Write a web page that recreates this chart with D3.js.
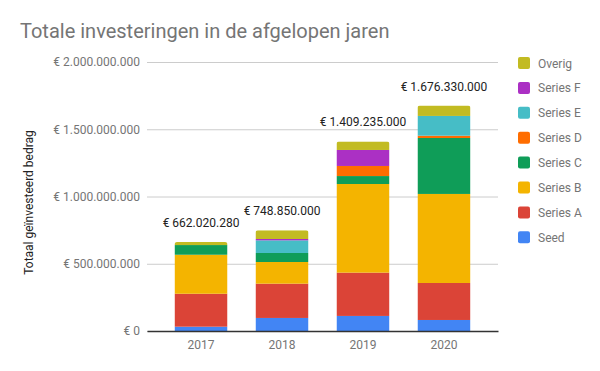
<!DOCTYPE html>
<html>
<head>
<meta charset="utf-8">
<script src="https://cdn.jsdelivr.net/npm/d3@7"></script>
<style>
  body { margin: 0; background: #fff; }
  text { font-family: Roboto, "Noto Sans", sans-serif; }
</style>
</head>
<body>
<div id="vis"></div>
<script>
// Data (euro)
var years = ["2017", "2018", "2019", "2020"];
var seriesNames = ["Seed", "Series A", "Series B", "Series C", "Series D", "Series E", "Series F", "Overig"];
var seed    = [32000000, 97000000, 112000000, 82000000];
var seriesA = [245000000, 255000000, 322000000, 275000000];
var seriesB = [290000000, 161000000, 659000000, 662000000];
var seriesC = [72000000, 67000000, 59000000, 416000000];
var seriesD = [0, 0, 75000000, 17000000];
var seriesE = [0, 94000000, 0, 147000000];
var seriesF = [0, 10000000, 119000000, 0];
var overig  = [23020280, 64850000, 63235000, 77330000];
var totals  = [662020280, 748850000, 1409235000, 1676330000];
var yTicks  = [0, 500000000, 1000000000, 1500000000, 2000000000];
var colors  = ["#4285F4", "#DB4437", "#F4B400", "#0F9D58", "#FF6D00", "#46BDC6", "#AB30C4", "#C2BB22"];

var width = 600;
var height = 371;
var margin = { top: 62, right: 102, bottom: 40, left: 147 };
var drawWidth = width - margin.left - margin.right;
var drawHeight = height - margin.top - margin.bottom;

var svg = d3.select("#vis").append("svg").attr("width", width).attr("height", height);

// Build rows for the stack
var allSeries = [seed, seriesA, seriesB, seriesC, seriesD, seriesE, seriesF, overig];
var rows = years.map(function(y, i) {
    var r = { year: y };
    seriesNames.forEach(function(name, k) { r[name] = allSeries[k][i]; });
    return r;
});
var stacked = d3.stack().keys(seriesNames)(rows);

var xScale = d3.scaleBand().domain(years).range([0, drawWidth]).paddingInner(0.346).paddingOuter(0.34);
var yScale = d3.scaleLinear().domain([0, 2000000000]).range([drawHeight, 0]);

var fmt = d3.formatLocale({ decimal: ",", thousands: ".", grouping: [3], currency: ["€ ", ""] }).format("$,.0f");

// Title
svg.append("text")
    .attr("x", 20).attr("y", 38)
    .attr("font-size", 20).attr("fill", "#757575")
    .text("Totale investeringen in de afgelopen jaren");

var g = svg.append("g").attr("transform", "translate(" + margin.left + "," + margin.top + ")");

// Gridlines + y labels
var yAxis = d3.axisLeft(yScale).tickValues(yTicks).tickSize(-drawWidth).tickPadding(7).tickFormat(fmt);
var yG = g.append("g").call(yAxis);
yG.select(".domain").remove();
yG.selectAll("line").attr("stroke", "#cccccc");
yG.selectAll("text").attr("font-size", 12).attr("fill", "#757575").attr("font-family", "Roboto");

// Y title
svg.append("text")
    .attr("transform", "translate(33," + (margin.top + drawHeight / 2 + 6) + ") rotate(-90)")
    .attr("text-anchor", "middle")
    .attr("font-size", 12).attr("fill", "#222")
    .text("Totaal geïnvesteerd bedrag");

// Clip each bar so only its top corners are rounded
var defs = svg.append("defs");
years.forEach(function(y, i) {
    defs.append("clipPath").attr("id", "clip" + i)
        .append("rect")
        .attr("x", xScale(y)).attr("width", xScale.bandwidth())
        .attr("y", yScale(totals[i]))
        .attr("height", drawHeight - yScale(totals[i]) + 4)
        .attr("rx", 2.5);
});

var layers = g.selectAll(".layer").data(stacked).enter().append("g")
    .attr("class", "layer")
    .attr("fill", function(d, k) { return colors[k]; });

layers.selectAll("rect").data(function(d) { return d; }).enter().append("rect")
    .attr("clip-path", function(d, i) { return "url(#clip" + i + ")"; })
    .attr("x", function(d) { return xScale(d.data.year); })
    .attr("width", xScale.bandwidth())
    .attr("y", function(d) { return yScale(d[1]); })
    .attr("height", function(d) { return yScale(d[0]) - yScale(d[1]); });

// Total labels
g.selectAll(".total").data(years).enter().append("text")
    .attr("x", function(d) { return xScale(d) + xScale.bandwidth() / 2; })
    .attr("y", function(d, i) { return yScale(totals[i]) - 15; })
    .attr("text-anchor", "middle")
    .attr("font-size", 12).attr("fill", "#222")
    .text(function(d, i) { return fmt(totals[i]); });

// X axis
var xAxis = d3.axisBottom(xScale).tickSize(0).tickPadding(9);
var xG = g.append("g").attr("transform", "translate(0," + drawHeight + ")").call(xAxis);
xG.select(".domain").attr("stroke", "#333").attr("stroke-width", 1.3);
xG.selectAll("text").attr("font-size", 12).attr("fill", "#757575").attr("font-family", "Roboto");

// Legend, Overig on top down to Seed
var legendNames = seriesNames.slice().reverse();
var legendColors = colors.slice().reverse();
var legend = svg.append("g").attr("transform", "translate(518,57)");
var items = legend.selectAll("g").data(legendNames).enter().append("g")
    .attr("transform", function(d, i) { return "translate(0," + (i * 24.9) + ")"; });
items.append("rect")
    .attr("width", 12).attr("height", 12).attr("rx", 2)
    .attr("fill", function(d, i) { return legendColors[i]; });
items.append("text")
    .attr("x", 20).attr("y", 10.5)
    .attr("font-size", 12).attr("fill", "#757575")
    .text(function(d) { return d; });
</script>
</body>
</html>
